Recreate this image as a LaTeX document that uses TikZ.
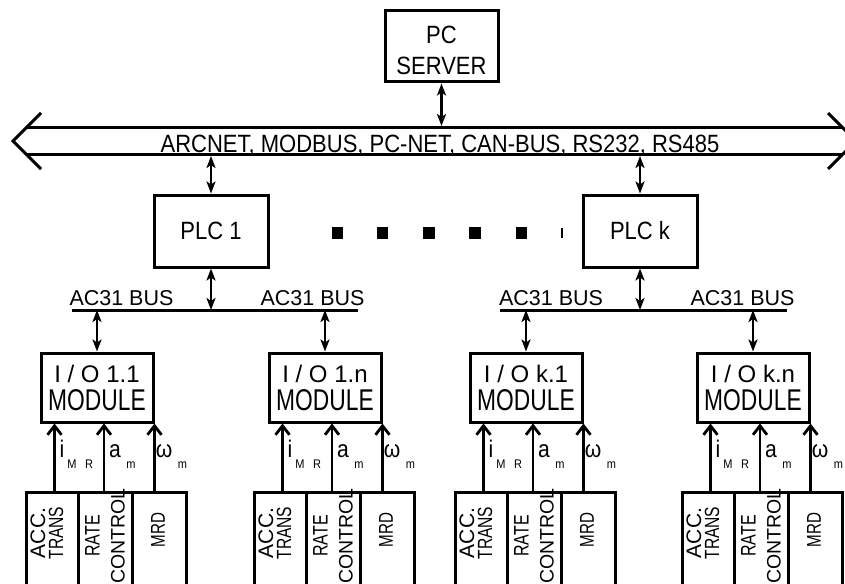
\documentclass[tikz,border=0pt]{standalone}
\usepackage{fontspec}
\setmainfont{Liberation Sans}[FakeStretch=0.88]
\newfontfamily\plainsans{Liberation Sans}
\newfontfamily\narrowsans{Liberation Sans}[FakeStretch=0.76]
\usetikzlibrary{arrows.meta}
\tikzset{
  box/.style={draw, line width=3pt, rectangle, inner sep=0pt, align=center},
  biarrow/.style={line width=2.8pt, {Stealth[length=12pt,width=9pt,inset=3pt]}-{Stealth[length=12pt,width=9pt,inset=3pt]}},
  inarrow/.style={line width=2.8pt, -{Straight Barb[length=9pt,width=14pt]}},
  busline/.style={line width=3pt},
  lbl/.style={inner sep=0pt, anchor=base, font=\fontsize{24}{24}\selectfont},
  sublbl/.style={inner sep=0pt, anchor=base, font=\fontsize{12.5}{12.5}\selectfont},
  rot/.style={inner sep=0pt, rotate=90, align=center},
  sq/.style={fill, inner sep=0pt, minimum size=11.5pt},
  txt/.style={inner sep=0pt, anchor=base},
}
\newcommand\IOgroup[3]{%
  \node[box, minimum width=112pt, minimum height=69pt, font=\plainsans\fontsize{24}{28}\selectfont] (#1io) at (#2+56,387.5)
    {I / O #3\\{\narrowsans\fontsize{30}{30}\selectfont MODULE}};
  \node[box, minimum width=52.5pt, minimum height=110pt, anchor=north] (#1acc) at (#2+11.25,491) {};
  \node[box, minimum width=54pt, minimum height=110pt, anchor=north] (#1rate) at (#2+64.5,491) {};
  \node[box, minimum width=53.5pt, minimum height=110pt, anchor=north] (#1mrd) at (#2+118.25,491) {};
  \node[rot, font=\plainsans\fontsize{21}{18}\selectfont] (#1acct) at (#2+6,533) {ACC.\\{\narrowsans\fontsize{20.5}{18}\selectfont TRANS}};
  \node[rot, font=\plainsans\fontsize{19.5}{25}\selectfont] (#1ratet) at (#2+64,536) {{\narrowsans\fontsize{21}{25}\selectfont RATE}\\CONTROL};
  \node[rot, font=\narrowsans\fontsize{20}{20}\selectfont] (#1mrdt) at (#2+117,530) {MRD};
  \draw[inarrow] ([xshift=2.25pt]#1acc.north) -- ([xshift=2.25pt]#1acc.north |- #1io.south);
  \draw[inarrow] ([xshift=-1.5pt]#1rate.north) -- ([xshift=-1.5pt]#1rate.north |- #1io.south);
  \draw[inarrow] (#1io.south east |- #1mrd.north) -- (#1io.south east);
  \node[lbl] (#1li) at (#2+21,457) {i};
  \node[sublbl] (#1lM) at (#2+31,468) {M};
  \node[sublbl] (#1lR) at (#2+48,468) {R};
  \node[lbl] (#1la) at (#2+74,457) {a};
  \node[sublbl] (#1lam) at (#2+90,468) {m};
  \node[lbl] (#1lw) at (#2+123,457) {ω};
  \node[sublbl] (#1lwm) at (#2+141.5,468) {m};
}
\begin{document}
\begin{tikzpicture}[x=1pt,y=-1pt]
\useasboundingbox (0,0) rectangle (845,583);
\clip (0,0) rectangle (845,583);

% PC server
\node[box, minimum width=113pt, minimum height=71pt] (pc) at (441.5,46.5) {};
\node[align=center, inner sep=0pt, font=\fontsize{25}{31}\selectfont] (pctext) at (441.5,50) {PC\\SERVER};

% network bus
\coordinate (busL) at (13,141);
\coordinate (busR) at (856,141);
\draw[line width=3pt, line join=miter] (41,113) -- (busL) -- (41,169);
\draw[line width=3pt, line join=miter] (828,113) -- (busR) -- (828,169);
\draw[busline] (27,127.5) -- (842,127.5);
\draw[busline] (27,154.5) -- (842,154.5);
\node[txt, font=\fontsize{25}{25}\selectfont] (bustext) at (440,152) {ARCNET, MODBUS, PC-NET, CAN-BUS, RS232, RS485};
\coordinate (busTop) at (441,126);
\coordinate (busBot) at (441,156);

% PLCs
\node[box, minimum width=114pt, minimum height=72pt, font=\fontsize{25}{25}\selectfont] (plcA) at (211,231) {PLC 1};
\node[box, minimum width=114pt, minimum height=72pt, font=\fontsize{25}{25}\selectfont] (plcB) at (640,231) {PLC k};
\draw[biarrow] (pc.south) -- (pc.south |- busTop);
\draw[biarrow] (plcA.north |- busBot) -- (plcA.north);
\draw[biarrow] (plcB.north |- busBot) -- (plcB.north);

% dots
\node[sq] (d1) at (337.5,233) {};
\node[sq] (d2) at (382.5,233) {};
\node[sq] (d3) at (429,233) {};
\node[sq] (d4) at (475,233) {};
\node[sq] (d5) at (521.5,233) {};
\coordinate (tk1) at (562,228);
\coordinate (tk2) at (562,238);
\draw[line width=1.3pt] (tk1) -- (tk2);

% AC31 buses
\coordinate (acAl) at (72,310);
\coordinate (acAr) at (358,310);
\coordinate (acBl) at (500,310);
\coordinate (acBr) at (787,310);
\draw[busline] (acAl) -- (acAr);
\draw[busline] (acBl) -- (acBr);
\node[txt, font=\plainsans\fontsize{21.5}{21.5}\selectfont] (labA1) at (121.5,305) {AC31 BUS};
\node[txt, font=\plainsans\fontsize{21.5}{21.5}\selectfont] (labA2) at (312.5,305) {AC31 BUS};
\node[txt, font=\plainsans\fontsize{21.5}{21.5}\selectfont] (labB1) at (551,305) {AC31 BUS};
\node[txt, font=\plainsans\fontsize{21.5}{21.5}\selectfont] (labB2) at (742.5,305) {AC31 BUS};
\draw[biarrow] (plcA.south) -- (plcA.south |- acAl);
\draw[biarrow] (plcB.south) -- (plcB.south |- acBl);

% I/O groups
\IOgroup{a}{41}{1.1}
\IOgroup{b}{269}{1.n}
\IOgroup{c}{470}{k.1}
\IOgroup{d}{697}{k.n}

\draw[biarrow] (aio.north |- acAl) -- (aio.north);
\draw[biarrow] (bio.north |- acAl) -- (bio.north);
\draw[biarrow] (cio.north |- acBl) -- (cio.north);
\draw[biarrow] (dio.north |- acBl) -- (dio.north);
\end{tikzpicture}
\end{document}
